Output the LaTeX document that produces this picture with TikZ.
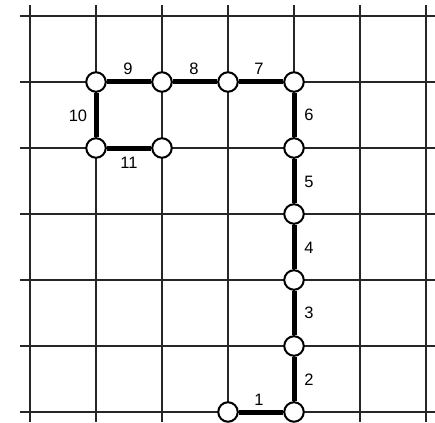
\documentclass[tikz,border=0pt]{standalone}
\usepackage{fontspec}
\setmainfont{Liberation Sans}
\begin{document}
\begin{tikzpicture}[x=1pt,y=-1pt,
  gridline/.style={line width=1.1pt,black!85},
  pathedge/.style={line width=5pt},
  vtx/.style={circle,draw,line width=2pt,fill=white,minimum size=19.5pt,inner sep=0pt},
  lbl/.style={font=\fontsize{16.5}{16.5}\selectfont,inner sep=0pt}]
\useasboundingbox (0,0) rectangle (435,422);
% grid
\foreach \x in {30,96,162,228,294,360,426} \draw[gridline] (\x,5) -- (\x,422);
\foreach \y in {16,82,148,214,280,346,412} \draw[gridline] (20,\y) -- (435,\y);
% vertices
\node[vtx] (v0) at (228,412) {};
\node[vtx] (v1) at (294,412) {};
\node[vtx] (v2) at (294,346) {};
\node[vtx] (v3) at (294,280) {};
\node[vtx] (v4) at (294,214) {};
\node[vtx] (v5) at (294,148) {};
\node[vtx] (v6) at (294,82) {};
\node[vtx] (v7) at (228,82) {};
\node[vtx] (v8) at (162,82) {};
\node[vtx] (v9) at (96,82) {};
\node[vtx] (v10) at (96,148) {};
\node[vtx] (v11) at (162,148) {};
% edges
\draw[pathedge] (v0) -- (v1) (v1) -- (v2) (v2) -- (v3) (v3) -- (v4) (v4) -- (v5) (v5) -- (v6)
  (v6) -- (v7) (v7) -- (v8) (v8) -- (v9) (v9) -- (v10) (v10) -- (v11);
% labels
\node[lbl] (l1) at (259,400) {1};
\node[lbl] (l2) at (309,380) {2};
\node[lbl] (l3) at (309,313) {3};
\node[lbl] (l4) at (309,248) {4};
\node[lbl] (l5) at (309,182) {5};
\node[lbl] (l6) at (309,115) {6};
\node[lbl] (l7) at (259,69) {7};
\node[lbl] (l8) at (194,69) {8};
\node[lbl] (l9) at (128,69) {9};
\node[lbl] (l10) at (78,116) {10};
\node[lbl] (l11) at (129,163) {11};
\end{tikzpicture}
\end{document}
